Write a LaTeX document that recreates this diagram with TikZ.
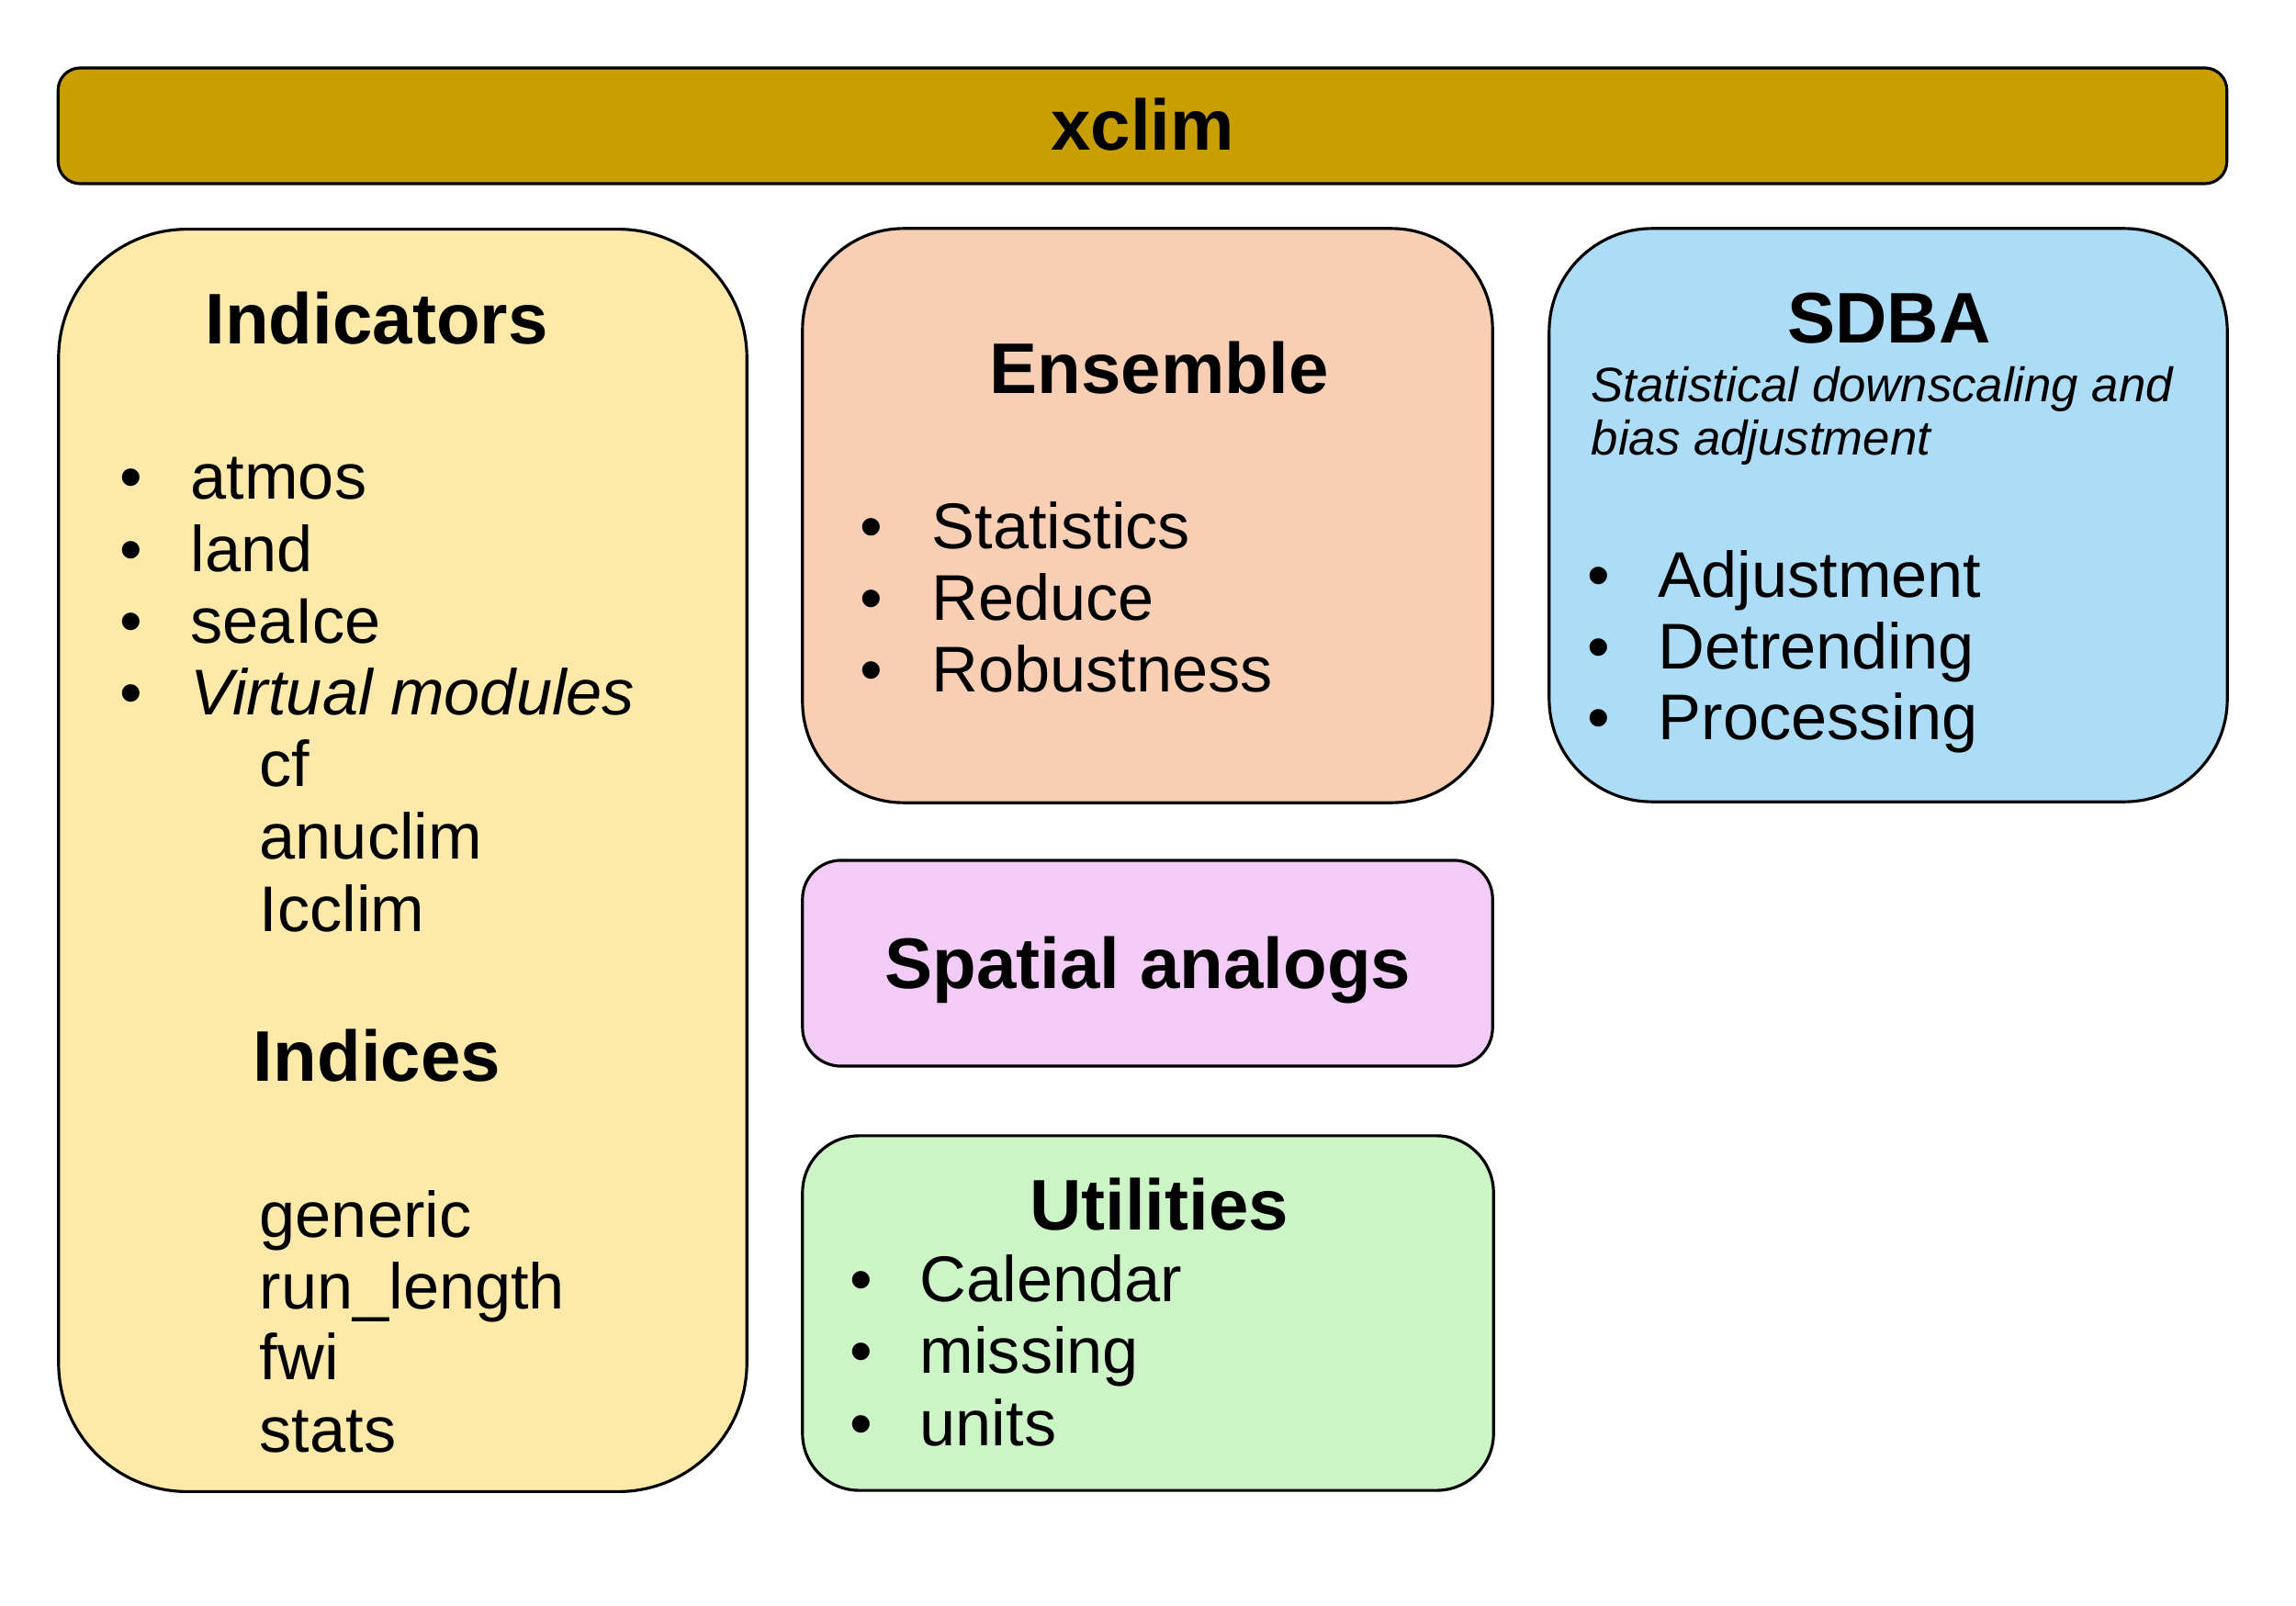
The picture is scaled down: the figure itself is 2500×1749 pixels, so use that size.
\documentclass[tikz,border=0pt]{standalone}
\usepackage{fontspec}
\setmainfont{Liberation Sans}
\definecolor{cbar}{RGB}{200,158,0}
\definecolor{cind}{RGB}{253,233,169}
\definecolor{cens}{RGB}{248,206,180}
\definecolor{csdba}{RGB}{173,220,247}
\definecolor{cspa}{RGB}{242,203,246}
\definecolor{cuti}{RGB}{205,244,199}
\begin{document}
\begin{tikzpicture}[x=0.01cm,y=-0.01cm,
  panel/.style={draw=black, line width=0.9pt, inner sep=0pt, outer sep=0pt},
  ttl/.style={inner sep=0pt, anchor=base, font=\fontsize{22.2}{24}\selectfont\bfseries},
  item/.style={inner sep=0pt, anchor=base west, font=\fontsize{20}{22}\selectfont},
  bul/.style={inner sep=0pt, anchor=base, font=\fontsize{20}{22}\selectfont},
  sub/.style={inner sep=0pt, anchor=base west, font=\fontsize{15}{16.5}\selectfont\itshape}]
\useasboundingbox (0,0) rectangle (2500,1749);
\fill[white] (0,0) rectangle (2500,1749);
% panels
\node[panel, fill=cbar, rounded corners=0.24cm, minimum width=23.6cm, minimum height=1.26cm] (bar) at (1244,137) {};
\node[panel, fill=cind, rounded corners=1.4cm, minimum width=7.49cm, minimum height=13.74cm] (ind) at (438.5,937) {};
\node[panel, fill=cens, rounded corners=1.1cm, minimum width=7.51cm, minimum height=6.25cm] (ens) at (1249.5,561.5) {};
\node[panel, fill=csdba, rounded corners=1.12cm, minimum width=7.38cm, minimum height=6.24cm] (sdba) at (2056,561) {};
\node[panel, fill=cspa, rounded corners=0.42cm, minimum width=7.51cm, minimum height=2.24cm] (spa) at (1249.5,1049) {};
\node[panel, fill=cuti, rounded corners=0.62cm, minimum width=7.52cm, minimum height=3.86cm] (uti) at (1250,1430) {};
% xclim
\node[ttl] (tbar) at (1244,164) {xclim};
% Indicators
\node[ttl] (tind) at (410,375) {Indicators};
\node[bul] (b1) at (143,543) {•};
\node[item] (i1) at (207,543) {atmos};
\node[bul] (b2) at (143,622) {•};
\node[item] (i2) at (207,622) {land};
\node[bul] (b3) at (143,700) {•};
\node[item] (i3) at (207,700) {seaIce};
\node[bul] (b4) at (143,778) {•};
\node[item, font=\fontsize{20}{22}\selectfont\itshape] (i4) at (207,778) {Virtual modules};
\node[item] (v1) at (282,856) {cf};
\node[item] (v2) at (282,935) {anuclim};
\node[item] (v3) at (282,1014) {Icclim};
\node[ttl] (tidx) at (410.5,1177) {Indices};
\node[item] (x1) at (282,1347) {generic};
\node[item] (x2) at (282,1425) {run\_length};
\node[item] (x3) at (282,1502) {fwi};
\node[item] (x4) at (282,1581) {stats};
% Ensemble
\node[ttl] (tens) at (1262,429) {Ensemble};
\node[bul] (e1b) at (949,597) {•};
\node[item] (e1) at (1014,597) {Statistics};
\node[bul] (e2b) at (949,675) {•};
\node[item] (e2) at (1014,675) {Reduce};
\node[bul] (e3b) at (949,753) {•};
\node[item] (e3) at (1014,753) {Robustness};
% SDBA
\node[ttl] (tsdba) at (2057,374) {SDBA};
\node[sub] (s1) at (1732,438) {Statistical downscaling and};
\node[sub] (s2) at (1732,495) {bias adjustment};
\node[bul] (d1b) at (1741,650) {•};
\node[item] (d1) at (1805,650) {Adjustment};
\node[bul] (d2b) at (1741,728) {•};
\node[item] (d2) at (1805,728) {Detrending};
\node[bul] (d3b) at (1741,805) {•};
\node[item] (d3) at (1805,805) {Processing};
% Spatial analogs
\node[ttl] (tspa) at (1250,1076) {Spatial analogs};
% Utilities
\node[ttl] (tuti) at (1262,1339) {Utilities};
\node[bul] (u1b) at (938,1417) {•};
\node[item] (u1) at (1001,1417) {Calendar};
\node[bul] (u2b) at (938,1495) {•};
\node[item] (u2) at (1001,1495) {missing};
\node[bul] (u3b) at (938,1574) {•};
\node[item] (u3) at (1001,1574) {units};
\end{tikzpicture}
\end{document}
